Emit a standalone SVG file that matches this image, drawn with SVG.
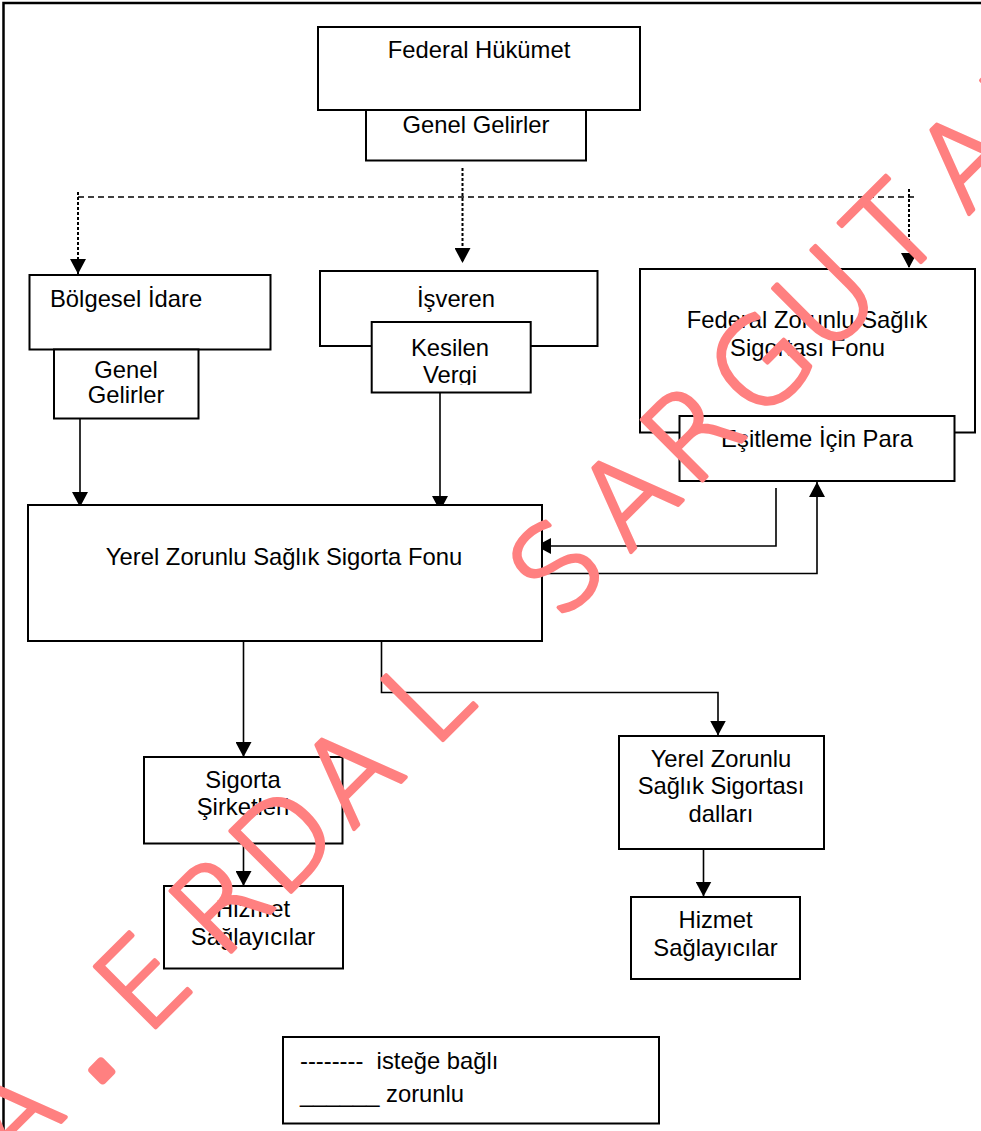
<svg xmlns="http://www.w3.org/2000/svg" width="981" height="1131" viewBox="0 0 981 1131">
  <style>
    .box { fill: #ffffff; stroke: #000000; stroke-width: 2; }
    .lbl { font-family: "Liberation Sans", Arial, sans-serif; font-size: 23.8px; fill: #000000; text-anchor: middle; }
    .lft { text-anchor: start; white-space: pre; }
    .con { fill: none; stroke: #000000; stroke-width: 1.6; }
    .dash { stroke-dasharray: 6 4; }
    .dot { stroke-dasharray: 3 2; stroke-width: 2; }
    .wm { font-family: "DejaVu Sans", sans-serif; font-weight: 200; font-size: 118px; fill: #ff8080; stroke: #ff8080; stroke-width: 4; stroke-linejoin: round; stroke-linecap: round; text-anchor: middle; }
    .wmdot { font-weight: 400; stroke-width: 8; }
  </style>
  <defs>
    <marker id="arr" markerUnits="userSpaceOnUse" markerWidth="15" markerHeight="16" refX="15" refY="8" orient="auto">
      <path d="M0,0 L15,8 L0,16 z" fill="#000000"/>
    </marker>
    <clipPath id="kclip"><rect x="371" y="322" width="160" height="63"/></clipPath>
  </defs>

  <g id="frame" fill="none" stroke="#000000" stroke-width="2.5">
    <path d="M3.5,1131 V3 H981"/>
  </g>

  <g id="connectors">
    <path class="con dash" d="M78,197 H916"/>
    <path class="con dot" d="M462.5,168 V263" marker-end="url(#arr)"/>
    <path class="con dot" d="M78,192 V274" marker-end="url(#arr)"/>
    <path class="con dot" d="M909,189 V268" marker-end="url(#arr)"/>
    <path class="con" d="M80,418.5 V507" marker-end="url(#arr)"/>
    <path class="con" d="M440,392.5 V511" marker-end="url(#arr)"/>
    <path class="con" d="M776,488 V546 H536" marker-end="url(#arr)"/>
    <path class="con" d="M542,573.5 H817 V482" marker-end="url(#arr)"/>
    <path class="con" d="M243.5,641 V757" marker-end="url(#arr)"/>
    <path class="con" d="M381.5,641 V692.5 H718 V735.5" marker-end="url(#arr)"/>
    <path class="con" d="M243.5,843.5 V886" marker-end="url(#arr)"/>
    <path class="con" d="M703.5,849 V896.5" marker-end="url(#arr)"/>
  </g>

  <g id="federal-hukumet">
    <rect class="box" x="318" y="27" width="322" height="83"/>
    <text class="lbl" x="479" y="58">Federal Hükümet</text>
  </g>
  <g id="federal-genel-gelirler">
    <rect class="box" x="366" y="110" width="220" height="50.5"/>
    <text class="lbl" x="476" y="133">Genel Gelirler</text>
  </g>

  <g id="bolgesel-idare">
    <rect class="box" x="29.5" y="275" width="241" height="74.5"/>
    <text class="lbl lft" x="50" y="306.5">Bölgesel İdare</text>
  </g>
  <g id="bolgesel-genel-gelirler">
    <rect class="box" x="54" y="349.5" width="144.5" height="69"/>
    <text class="lbl" x="126" y="378">Genel</text>
    <text class="lbl" x="126" y="402.5">Gelirler</text>
  </g>

  <g id="isveren">
    <rect class="box" x="320" y="271" width="277.5" height="75"/>
    <text class="lbl" x="456" y="306.5">İşveren</text>
  </g>
  <g id="kesilen-vergi">
    <rect class="box" x="371.7" y="322" width="159" height="70.5"/>
    <text class="lbl" x="450" y="356">Kesilen</text>
    <text class="lbl" x="450" y="383" clip-path="url(#kclip)">Vergi</text>
  </g>

  <g id="federal-fon">
    <rect class="box" x="640" y="269" width="335" height="163.5"/>
    <text class="lbl" x="807" y="328">Federal Zorunlu Sağlık</text>
    <text class="lbl" x="807.5" y="356">Sigortası Fonu</text>
  </g>
  <g id="esitleme">
    <rect class="box" x="679.5" y="416" width="275" height="65"/>
    <text class="lbl" x="817" y="447">Eşitleme İçin Para</text>
  </g>

  <g id="yerel-fon">
    <rect class="box" x="28" y="505" width="514" height="136"/>
    <text class="lbl" x="284" y="565">Yerel Zorunlu Sağlık Sigorta Fonu</text>
  </g>

  <g id="sigorta-sirketleri">
    <rect class="box" x="144" y="757" width="198.5" height="86.5"/>
    <text class="lbl" x="243" y="788">Sigorta</text>
    <text class="lbl" x="243" y="815">Şirketleri</text>
  </g>
  <g id="hizmet-saglayicilar-1">
    <rect class="box" x="164" y="886" width="179" height="82.5"/>
    <text class="lbl" x="253" y="917">Hizmet</text>
    <text class="lbl" x="253" y="945">Sağlayıcılar</text>
  </g>

  <g id="yerel-dallari">
    <rect class="box" x="619" y="736" width="205" height="113"/>
    <text class="lbl" x="721" y="766.5">Yerel Zorunlu</text>
    <text class="lbl" x="721" y="794">Sağlık Sigortası</text>
    <text class="lbl" x="721" y="821.5">dalları</text>
  </g>
  <g id="hizmet-saglayicilar-2">
    <rect class="box" x="631" y="897" width="169" height="82"/>
    <text class="lbl" x="715.5" y="928">Hizmet</text>
    <text class="lbl" x="715.5" y="956">Sağlayıcılar</text>
  </g>

  <g id="legend">
    <rect class="box" x="283" y="1037" width="376" height="86.5"/>
    <text class="lbl lft" x="300" y="1069">--------  isteğe bağlı</text>
    <text class="lbl lft" x="300" y="1102">______ zorunlu</text>
  </g>

  <g id="watermark" transform="translate(0,1183) rotate(-45)">
    <text class="wm" x="56.6" y="0">A<tspan class="wmdot" x="151.3">.</tspan><tspan x="243 353.6 443 537.4 645 828.7 929.1 1020 1117.2 1209.2 1305.3 1407.1 1503.3">ERDALSARGUTAN</tspan></text>
  </g>
</svg>
